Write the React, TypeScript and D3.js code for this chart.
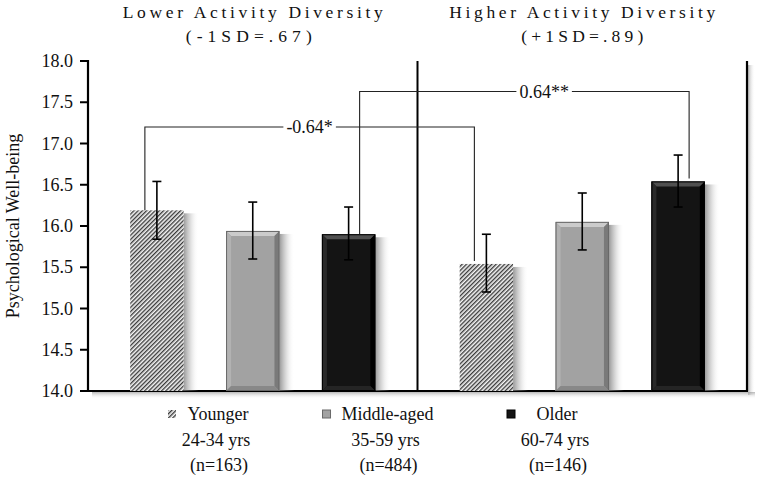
import * as d3 from 'd3';

const panels = ['Lower Activity Diversity', 'Higher Activity Diversity'];
const panelSubs = ['(-1SD=.67)', '(+1SD=.89)'];
const ageGroups = ['Younger', 'Middle-aged', 'Older'];
const ageRanges = ['24-34 yrs', '35-59 yrs', '60-74 yrs'];
const ageCounts = ['(n=163)', '(n=484)', '(n=146)'];

const lowerMeans = [16.19, 15.94, 15.9];
const lowerLow = [15.84, 15.6, 15.59];
const lowerHigh = [16.54, 16.29, 16.23];
const higherMeans = [15.54, 16.05, 16.54];
const higherLow = [15.2, 15.71, 16.23];
const higherHigh = [15.9, 16.4, 16.86];

const yTicks = [14.0, 14.5, 15.0, 15.5, 16.0, 16.5, 17.0, 17.5, 18.0];

// contrasts between the same age group across panels
const contrastLabels = ['-0.64*', '0.64**'];
const contrastGroups = ['Younger', 'Older'];
const contrastLevels = [17.2, 17.63];

const FONT = '"Liberation Serif", "Times New Roman", serif';

const width = 760;
const height = 477;
const left = 88, right = 747, top = 61, bottom = 391;

let ctx: CanvasRenderingContext2D | null = null;
function textWidth(s: string, size: number) {
  if (!ctx) ctx = document.createElement('canvas').getContext('2d');
  if (!ctx) return s.length * size * 0.5;
  ctx.font = `${size}px "Liberation Serif"`;
  return ctx.measureText(s).width;
}

const bevels = [
  null,
  { base: '#a2a2a2', top: '#cbcbcb', left: '#b2b2b2', right: '#7a7a7a', bot: '#888888', edge: '#686868' },
  { base: '#141414', top: '#505050', left: '#2a2a2a', right: '#000000', bot: '#252525', edge: '#000' },
];

function Bar({ x, y, w, h, gi }: { x: number; y: number; w: number; h: number; gi: number }) {
  const bv = bevels[gi];
  const shade = <rect x={x + w} y={y + 3} width={15} height={h - 3} fill="url(#shade)" />;
  if (!bv) {
    return (
      <g>
        {shade}
        <rect x={x} y={y} width={w} height={h} fill="url(#hatch)" />
      </g>
    );
  }
  const e = Math.min(5, h / 2);
  const pts = (p: number[][]) => p.map((q) => q.join(',')).join(' ');
  return (
    <g>
      {shade}
      <rect x={x} y={y} width={w} height={h} fill={bv.base} />
      <polygon points={pts([[x, y], [x + w, y], [x + w - e, y + e], [x + e, y + e]])} fill={bv.top} />
      <polygon points={pts([[x, y], [x + e, y + e], [x + e, y + h - e], [x, y + h]])} fill={bv.left} />
      <polygon points={pts([[x + w, y], [x + w, y + h], [x + w - e, y + h - e], [x + w - e, y + e]])} fill={bv.right} />
      <polygon points={pts([[x, y + h], [x + e, y + h - e], [x + w - e, y + h - e], [x + w, y + h]])} fill={bv.bot} />
      <rect x={x + 0.5} y={y + 0.5} width={w - 1} height={h - 1} fill="none" stroke={bv.edge} strokeWidth={1} />
    </g>
  );
}

export default function App() {
  const rows = panels.flatMap((p, pi) =>
    ageGroups.map((g, gi) => ({
      panel: p,
      group: g,
      gi,
      mean: pi === 0 ? lowerMeans[gi] : higherMeans[gi],
      lo: pi === 0 ? lowerLow[gi] : higherLow[gi],
      hi: pi === 0 ? lowerHigh[gi] : higherHigh[gi],
    }))
  );

  const y = d3.scaleLinear().domain([14, 18]).range([bottom, top]);
  const x0 = d3.scaleBand().domain(panels).range([left, right]);
  const x1 = d3.scaleBand().domain(ageGroups).range([0, x0.bandwidth()])
    .paddingInner(0.443).paddingOuter(0.44);
  const bw = x1.bandwidth();
  const cx = (p: string, g: string) => (x0(p) as number) + (x1(g) as number) + bw / 2;
  const fmt = d3.format('.1f');
  const lx = d3.scalePoint().domain(ageGroups).range([218, 557]);
  const labelFrac = [0.5, 0.56];

  const txt = { fontFamily: FONT, fontSize: 18, fill: '#111' } as const;

  return (
    <svg width={width} height={height} style={{ display: 'block', position: 'absolute', left: 0, top: 0 }}>
      <defs>
        <pattern id="hatch" patternUnits="userSpaceOnUse" width={3} height={3} patternTransform="rotate(45)">
          <rect width={3} height={3} fill="#f4f4f4" />
          <rect width={1.35} height={3} fill="#3a3a3a" />
        </pattern>
        <linearGradient id="shade" x1="0" x2="1" y1="0" y2="0">
          <stop offset="0" stopColor="#777" stopOpacity={0.75} />
          <stop offset="0.4" stopColor="#999" stopOpacity={0.4} />
          <stop offset="1" stopColor="#fff" stopOpacity={0} />
        </linearGradient>
        <linearGradient id="shadeH" x1="0" x2="1" y1="0" y2="0">
          <stop offset="0" stopColor="#888" stopOpacity={0.6} />
          <stop offset="1" stopColor="#fff" stopOpacity={0} />
        </linearGradient>
        <linearGradient id="shadeV" x1="0" x2="0" y1="0" y2="1">
          <stop offset="0" stopColor="#888" stopOpacity={0.6} />
          <stop offset="1" stopColor="#fff" stopOpacity={0} />
        </linearGradient>
      </defs>
      <rect width={width} height={height} fill="#fff" />

      {/* frame with soft shadow */}
      <rect x={right + 1} y={top + 4} width={7} height={bottom - top} fill="url(#shadeH)" />
      <rect x={left + 4} y={bottom + 1} width={right - left + 4} height={7} fill="url(#shadeV)" />
      <line x1={right} x2={right} y1={top} y2={bottom} stroke="#000" strokeWidth={2.2} />
      <line x1={left} x2={right + 1} y1={bottom} y2={bottom} stroke="#000" strokeWidth={2.2} />
      <line x1={x0(panels[1])} x2={x0(panels[1])} y1={top} y2={bottom} stroke="#000" strokeWidth={2} />

      {/* bars */}
      {rows.map((d, i) => (
        <Bar key={i} x={cx(d.panel, d.group) - bw / 2} y={y(d.mean)} w={bw} h={bottom - y(d.mean)} gi={d.gi} />
      ))}

      {/* contrast brackets */}
      {contrastGroups.map((g, i) => {
        const off = i === 0 ? -12 : 11;
        const xa = cx(panels[0], g) + off;
        const xb = cx(panels[1], g) + off;
        const ma = rows.find((r) => r.panel === panels[0] && r.group === g)!.mean;
        const mb = rows.find((r) => r.panel === panels[1] && r.group === g)!.mean;
        const yl = y(contrastLevels[i]);
        const tx = xa + (xb - xa) * labelFrac[i];
        const w = textWidth(contrastLabels[i], 18);
        return (
          <g key={g}>
            <path d={`M${xa},${y(ma)}V${yl}H${xb}V${y(mb) - 3}`} fill="none" stroke="#222" strokeWidth={1.1} />
            <rect x={tx - w / 2 - 3} y={yl - 3} width={w + 6} height={6} fill="#fff" />
            <text x={tx} y={yl} dy="0.35em" textAnchor="middle" style={txt}>{contrastLabels[i]}</text>
          </g>
        );
      })}

      {/* error bars */}
      <g stroke="#000" strokeWidth={1.6}>
        {rows.map((d, i) => {
          const c = cx(d.panel, d.group);
          return (
            <g key={i}>
              <line x1={c} x2={c} y1={y(d.hi)} y2={y(d.lo)} />
              <line x1={c - 4.5} x2={c + 4.5} y1={y(d.hi)} y2={y(d.hi)} />
              <line x1={c - 4.5} x2={c + 4.5} y1={y(d.lo)} y2={y(d.lo)} />
            </g>
          );
        })}
      </g>

      {/* y axis */}
      <line x1={left} x2={left} y1={top - 1} y2={bottom} stroke="#000" strokeWidth={2.2} />
      {yTicks.map((t) => (
        <g key={t} transform={`translate(0,${y(t)})`}>
          <line x1={left - 8} x2={left} stroke="#000" strokeWidth={2} />
          <text x={left - 15} dy="0.34em" textAnchor="end" style={txt}>{fmt(t)}</text>
        </g>
      ))}
      <text transform={`translate(19,${(top + bottom) / 2}) rotate(-90)`} textAnchor="middle" style={txt}>
        Psychological Well-being
      </text>

      {/* panel titles */}
      {panels.map((p, i) => {
        const c = (x0(p) as number) + x0.bandwidth() / 2;
        return (
          <g key={p}>
            <text x={c} y={18} textAnchor="middle" style={{ ...txt, fontSize: 17.5 }}
              textLength={i === 0 ? 260 : 266} lengthAdjust="spacing">{p}</text>
            <text x={c - (i === 0 ? 4 : 0)} y={42} textAnchor="middle" style={{ ...txt, fontSize: 17.5 }}
              textLength={i === 0 ? 126 : 122} lengthAdjust="spacing">{panelSubs[i]}</text>
          </g>
        );
      })}

      {/* legend */}
      {ageGroups.map((g, i) => {
        const c = lx(g) as number;
        const w = textWidth(g, 18);
        const mr = Math.min(c - w / 2 - 11, c - 42);
        const ms = 8;
        const bv = bevels[i];
        return (
          <g key={g} style={txt}>
            <text x={c} y={420} textAnchor="middle">{g}</text>
            <text x={c - 2} y={446} textAnchor="middle">{ageRanges[i]}</text>
            <text x={c + 1} y={471} textAnchor="middle">{ageCounts[i]}</text>
            {bv ? (
              <rect x={mr - ms} y={410} width={ms} height={ms} fill={bv.base} stroke={bv.edge} strokeWidth={1} />
            ) : (
              <rect x={mr - ms} y={410} width={ms} height={ms} fill="url(#hatch)" />
            )}
          </g>
        );
      })}
    </svg>
  );
}
